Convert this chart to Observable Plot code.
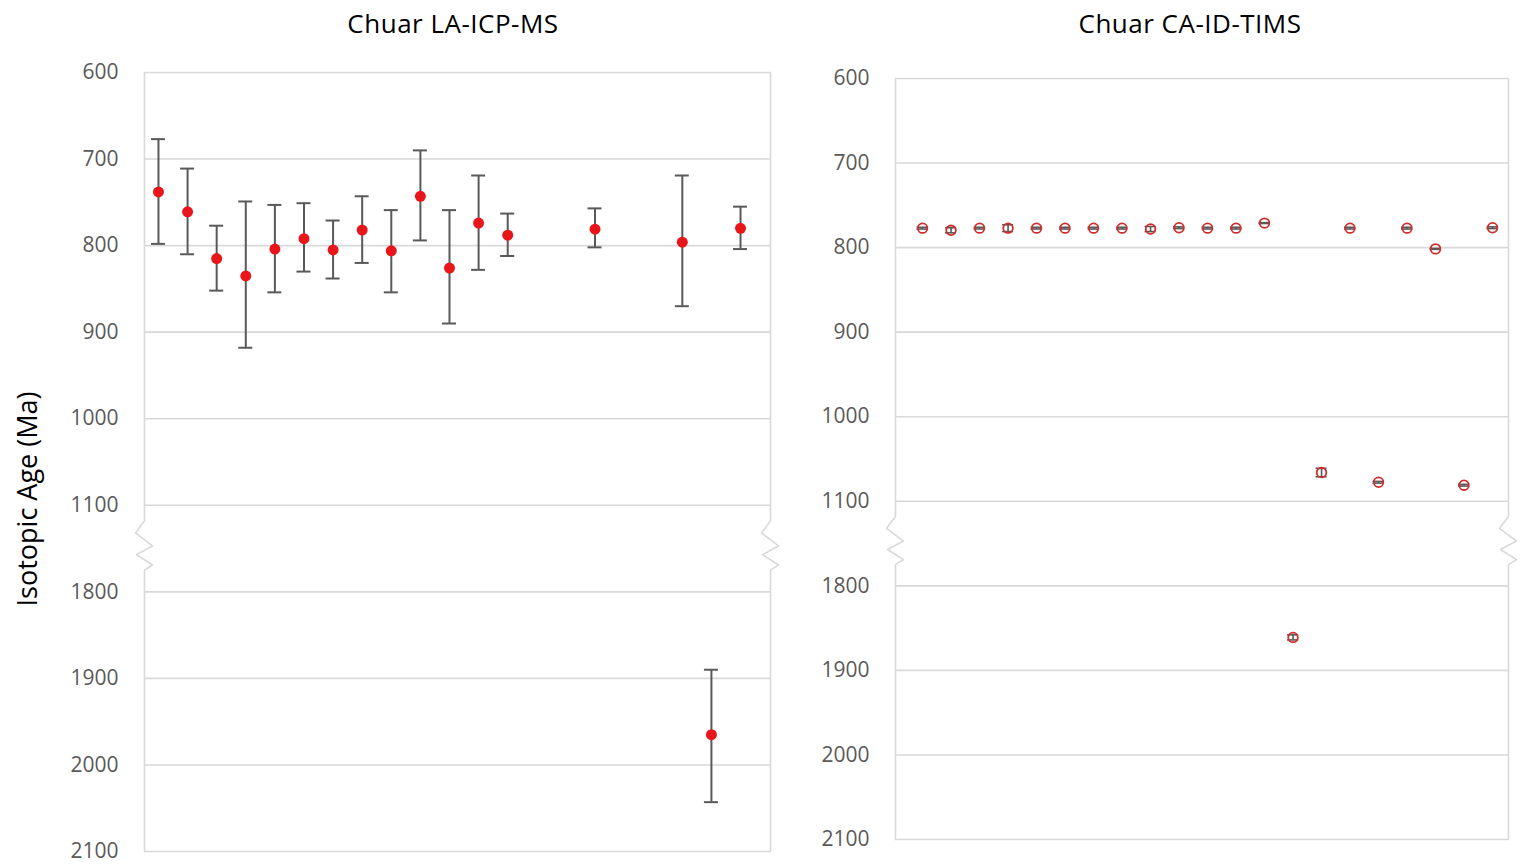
<!DOCTYPE html>
<html><head><meta charset="utf-8">
<script src="https://cdn.jsdelivr.net/npm/d3@7"></script>
<script src="https://cdn.jsdelivr.net/npm/@observablehq/plot@0.6"></script>
<style>
body{margin:0;background:#fff;font-family:"Open Sans",sans-serif;}
#wrap{position:relative;width:1522px;height:866px;background:#fff;overflow:hidden;}
.title{position:absolute;top:0;width:400px;height:46px;line-height:46px;text-align:center;font-size:26px;color:#000;letter-spacing:0.5px;}
.plot{position:absolute;top:50px;}
</style></head><body><div id="wrap"></div>
<script>
// ---- data ----
const titles = ["Chuar LA-ICP-MS", "Chuar CA-ID-TIMS"];
const yLabel = "Isotopic Age (Ma)";
const tickValues = [600, 700, 800, 900, 1000, 1100, 1800, 1900, 2000, 2100];
const breakLow = 1100, breakHigh = 1800;

// LA-ICP-MS (filled dots, 2-sigma error bars)
const laSample = [1, 2, 3, 4, 5, 6, 7, 8, 9, 10, 11, 12, 13, 16, 19, 20, 21];
const laAge  = [738, 761, 815, 835, 804, 792, 805, 782, 806, 743, 826, 774, 788, 781, 796, 1965, 780];
const laLow  = [677, 711, 777, 749, 753, 751, 771, 743, 759, 690, 759, 719, 763, 757, 719, 1890, 755];
const laHigh = [798, 810, 852, 918, 854, 830, 838, 820, 854, 794, 890, 828, 812, 802, 870, 2043, 804];

// CA-ID-TIMS (open circles, small error bars)
const tiSample = [1, 2, 3, 4, 5, 6, 7, 8, 9, 10, 11, 12, 13, 14, 15, 16, 17, 18, 19, 20, 21];
const tiAge = [777, 779.5, 777, 777, 777, 777, 777, 777, 778, 776.5, 777, 777, 771, 1861, 1066, 777, 1077.5, 777, 801.5, 1081, 776.5];
const tiErr = [1, 3, 1, 4, 1, 1, 1, 1, 3, 1, 1, 1, 0.5, 3, 5, 1, 1, 1, 0.5, 1, 1];

// ---- broken axis helpers ----
const gap = breakHigh - breakLow - 100;          // collapse 1100–1800 into one interval
const brk = v => v > breakLow ? v - gap : v;
const unbrk = v => v > breakLow ? v + gap : v;

const laData = laSample.map((s, i) => ({sample: s, age: laAge[i], low: laLow[i], high: laHigh[i]}));
const tiData = tiSample.map((s, i) => ({sample: s, age: tiAge[i], low: tiAge[i] - tiErr[i], high: tiAge[i] + tiErr[i]}));

const grid = "#d9d9d9";
const textGray = "#595959";

// zigzag pattern of the axis break: [pixel offset in x, offset in y-units from break centre]
const zig = [[0, -32], [-9, -18], [8, -3], [-8, 7], [8, 19], [0, 25]];

function panel(cfg) {
  const {data, xDomain, width, height, ml, mr, mt, mb, filled, showLabel} = cfg;
  const pxPerUnit = (width - ml - mr) / (xDomain[1] - xDomain[0]);
  const mid = brk(breakLow) + 50;
  const border = x0 => [
    {x: x0, y: brk(tickValues[0])},
    ...zig.map(([dx, dy]) => ({x: x0 + dx / pxPerUnit, y: mid + dy})),
    {x: x0, y: brk(tickValues[tickValues.length - 1])}
  ];
  const cap = filled ? -7 : -5.5;
  const sw = filled ? 2 : 1.6;
  const marks = [
    Plot.ruleY(tickValues.map(brk), {stroke: grid, strokeWidth: 1.6}),
    Plot.line(border(xDomain[0]), {x: "x", y: "y", stroke: grid, strokeWidth: 1.6}),
    Plot.line(border(xDomain[1]), {x: "x", y: "y", stroke: grid, strokeWidth: 1.6}),
    Plot.axisY(tickValues.map(brk), {tickSize: 0, tickPadding: 26, label: null, tickFormat: d => String(unbrk(d)), fontSize: 21, color: textGray}),
    Plot.ruleX(data, {x: "sample", y1: d => brk(d.low), y2: d => brk(d.high), stroke: textGray, strokeWidth: sw}),
    Plot.ruleY(data, {x1: "sample", x2: "sample", y: d => brk(d.low), insetLeft: cap, insetRight: cap, stroke: textGray, strokeWidth: sw}),
    Plot.ruleY(data, {x1: "sample", x2: "sample", y: d => brk(d.high), insetLeft: cap, insetRight: cap, stroke: textGray, strokeWidth: sw}),
    filled
      ? Plot.dot(data, {x: "sample", y: d => brk(d.age), r: 5.5, fill: "#e8161b", stroke: "none"})
      : Plot.dot(data, {x: "sample", y: d => brk(d.age), r: 4.8, fill: "none", stroke: "#d42a2a", strokeWidth: 1.8})
  ];
  if (showLabel) {
    marks.push(Plot.text([yLabel], {frameAnchor: "left", textAnchor: "middle", rotate: -90, dx: -116, dy: 37, fontSize: 27, fill: "#000", fontFamily: "Open Sans"}));
  }
  return Plot.plot({
    width, height,
    marginLeft: ml, marginRight: mr, marginTop: mt, marginBottom: mb,
    style: {fontFamily: "Open Sans", background: "transparent", overflow: "visible"},
    x: {domain: xDomain, axis: null},
    y: {domain: [brk(tickValues[0]), brk(tickValues[tickValues.length - 1])], reverse: true, axis: null},
    marks
  });
}

const wrap = document.getElementById("wrap");
const left = panel({data: laData, xDomain: [0.52, 22.03], width: 790, height: 816, ml: 144, mr: 20, mt: 22, mb: 15, filled: true, showLabel: true});
const right = panel({data: tiData, xDomain: [0.05, 21.56], width: 732, height: 816, ml: 105, mr: 14, mt: 28, mb: 27, filled: false, showLabel: false});

const t1 = document.createElement("div"); t1.className = "title"; t1.style.left = "253px"; t1.textContent = titles[0];
const t2 = document.createElement("div"); t2.className = "title"; t2.style.left = "990px"; t2.textContent = titles[1];
left.classList.add("plot"); left.style.left = "0px";
right.classList.add("plot"); right.style.left = "790px";
wrap.append(t1, t2, left, right);
</script>
</body></html>
